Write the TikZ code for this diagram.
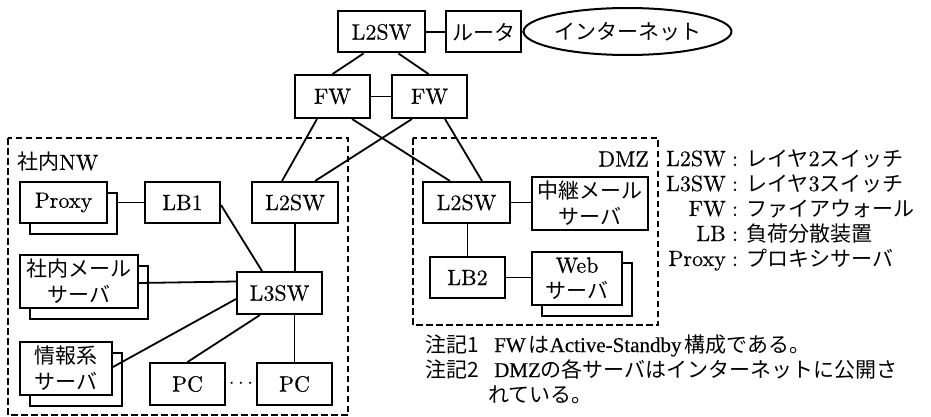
\documentclass[tikz,border=0pt]{standalone}
\usepackage{fontspec}
\setmainfont{lmroman10-regular}[Extension=.otf, BoldFont=lmroman10-bold, ItalicFont=lmroman10-italic, Scale=1.05, FakeBold=0.4]
\newfontfamily\jpf{Noto Sans CJK JP}
\newfontfamily\tmf{Liberation Serif}[FakeBold=0.3]
\newcommand{\jt}[1]{{\jpf #1}}
\usetikzlibrary{shapes.geometric,shadows}
\pgfdeclarelayer{background}
\pgfsetlayers{background,main}
\tikzset{
  base/.style={font=\fontsize{21pt}{26pt}\selectfont, inner sep=0pt},
  box/.style={base, draw, fill=white, line width=2pt, minimum height=41pt, align=center},
  stack/.style={box, copy shadow={shadow xshift=10pt, shadow yshift=-11pt, line width=2pt, draw, fill=white}},
  conn/.style={line width=1.8pt},
  zone/.style={line width=2pt, dash pattern=on 6.5pt off 3.5pt},
}
\begin{document}
\begin{tikzpicture}[x=1pt, y=-1pt]
\useasboundingbox (0,0) rectangle (931,417);
% zones
\draw[zone] (8,138) rectangle (348,415);
\draw[zone] (413,138) rectangle (658,325);
% top
\node[box, minimum width=87pt] (sw0) at (381.5,32) {L2SW};
\node[box, minimum width=75pt] (rt) at (483.5,32) {\jt{ルータ}};
\node[base, draw, ellipse, line width=2pt, minimum width=171pt, minimum height=47pt] (inet) at (627.5,31.5) {\jt{インターネット}};
\node[box, minimum width=75pt, minimum height=43pt] (fwL) at (332.5,96.5) {FW};
\node[box, minimum width=75pt, minimum height=43pt] (fwR) at (429.5,96.5) {FW};
% labels
\node[base, anchor=west] (lblNW) at (17,162) {\jt{社内}NW};
\node[base, anchor=east] (lblDMZ) at (649,159) {DMZ};
% internal NW
\node[stack, minimum width=87pt] (proxy) at (63.5,202.5) {Proxy};
\node[box, minimum width=75pt] (lb1) at (182.5,202.5) {LB1};
\node[box, minimum width=86pt] (swN) at (295,202.5) {L2SW};
\node[stack, minimum width=118pt, minimum height=53pt] (mail) at (79,281.5) {\jt{社内メール}\\\jt{サーバ}};
\node[box, minimum width=85pt, minimum height=42pt] (l3) at (279.5,293) {L3SW};
\node[stack, minimum width=92pt, minimum height=53pt] (info) at (66,368.5) {\jt{情報系}\\\jt{サーバ}};
\node[box, minimum width=75pt, minimum height=42pt] (pc1) at (187.5,384) {PC};
\node[box, minimum width=75pt, minimum height=42pt] (pc2) at (294.5,384) {PC};
\node[base] (dots) at (241,384) {$\cdots$};
% DMZ
\node[box, minimum width=87pt] (swD) at (466.5,202.5) {L2SW};
\node[box, minimum width=116pt, minimum height=53pt] (relay) at (590,203.5) {\jt{中継メール}\\\jt{サーバ}};
\node[box, minimum width=75pt] (lb2) at (467.5,277.5) {LB2};
\node[stack, minimum width=90pt, minimum height=53pt] (web) at (577,278.5) {Web\\\jt{サーバ}};
% legend
\node[base, anchor=base east] (k1) at (726,166) {L2SW};
\node[base, anchor=base] (c1) at (735,166) {:};
\node[base, anchor=base west] (v1) at (746,166) {\jt{レイヤ}2\jt{スイッチ}};
\node[base, anchor=base east] (k2) at (726,191) {L3SW};
\node[base, anchor=base] (c2) at (735,191) {:};
\node[base, anchor=base west] (v2) at (746,191) {\jt{レイヤ}3\jt{スイッチ}};
\node[base, anchor=base east] (k3) at (726,216) {FW};
\node[base, anchor=base] (c3) at (735,216) {:};
\node[base, anchor=base west] (v3) at (746,216) {\jt{ファイアウォール}};
\node[base, anchor=base east] (k4) at (726,241) {LB};
\node[base, anchor=base] (c4) at (735,241) {:};
\node[base, anchor=base west] (v4) at (746,241) {\jt{負荷分散装置}};
\node[base, anchor=base east] (k5) at (726,266) {Proxy};
\node[base, anchor=base] (c5) at (735,266) {:};
\node[base, anchor=base west] (v5) at (746,266) {\jt{プロキシサーバ}};
% notes
\node[base, anchor=base west] (n1a) at (425,352) {\jt{注記1}};
\node[base, anchor=base west] (n1b) at (494,352) {\tmf FW\kern3pt\jt{は}Active-Standby\kern3pt\jt{構成である。}};
\node[base, anchor=base west] (n2a) at (425,377) {\jt{注記2}};
\node[base, anchor=base west] (n2b) at (494,377) {\tmf DMZ\jt{の各サーバはインターネットに公開さ}};
\node[base, anchor=base west] (n3) at (488,402) {\jt{れている。}};
% connectors behind
\begin{pgfonlayer}{background}
\draw[conn] (proxy.east) -- (lb1.west);
\end{pgfonlayer}
\draw[conn] (sw0.east) -- (rt.west);
\draw[conn] (rt.east) -- (inet.west);
\draw[conn] ([xshift=-18pt]sw0.south) -- (fwL.north);
\draw[conn] ([xshift=17pt]sw0.south) -- ([xshift=-1pt]fwR.north);
\draw[conn] (fwL.east) -- (fwR.west);
\draw[conn] ([xshift=-15.5pt]fwL.south) -- ([xshift=-13pt]swN.north);
\draw[conn] ([xshift=19.5pt]fwL.south) -- ([xshift=-16.5pt]swD.north);
\draw[conn] ([xshift=-17.5pt]fwR.south) -- ([xshift=20pt]swN.north);
\draw[conn] ([xshift=15.5pt]fwR.south) -- ([xshift=15.5pt]swD.north);
\draw[conn] ([yshift=-2.5pt]lb1.east) -- ([xshift=-17.5pt]l3.north);
\draw[conn] (swN.south) -- (swN.south |- l3.north);
\draw[conn] ([yshift=-1.5pt]mail.east) -- (mail.east -| l3.west);
\draw[conn] ([yshift=1.5pt]info.east) -- ([yshift=-6pt]l3.west);
\draw[conn] ([xshift=-19.5pt]l3.south) -- (pc1.north);
\draw[conn] (pc2.north |- l3.south) -- (pc2.north);
\draw[conn] (swD.east) -- (swD.east -| relay.west);
\draw[conn] (lb2.north |- swD.south) -- (lb2.north);
\draw[conn] (lb2.east) -- (lb2.east -| web.west);
\end{tikzpicture}
\end{document}
